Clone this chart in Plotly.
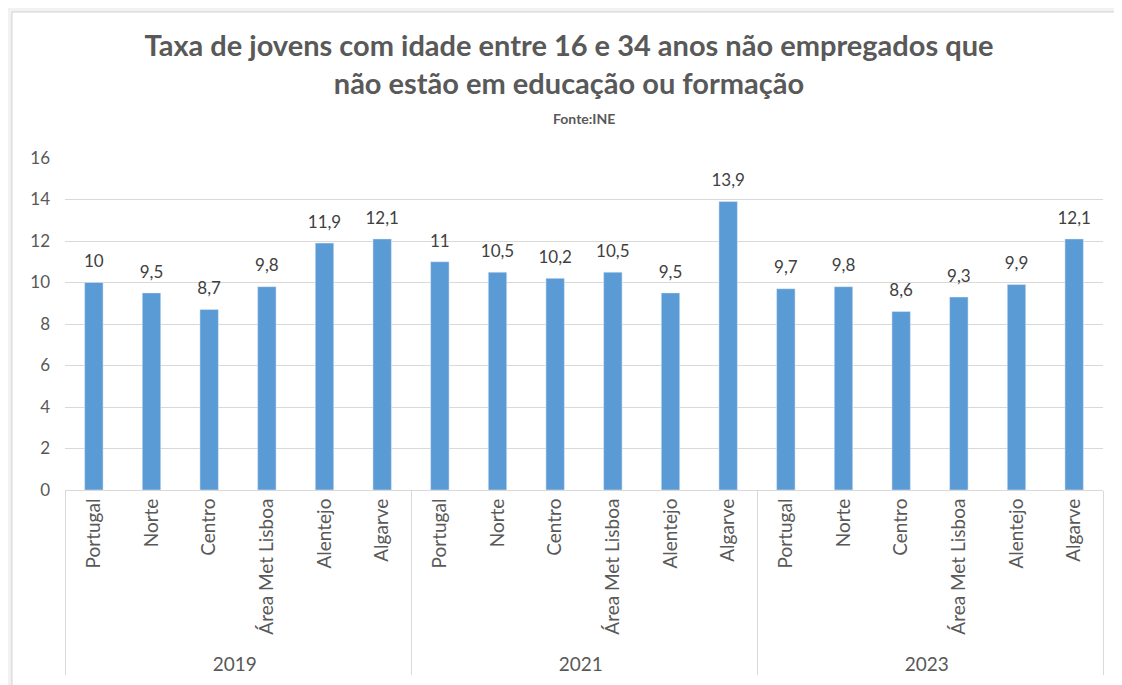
import plotly.graph_objects as go

# dados (fonte: INE)
anos = ["2019"] * 6 + ["2021"] * 6 + ["2023"] * 6
regioes = ["Portugal", "Norte", "Centro", "Área Met Lisboa", "Alentejo", "Algarve"] * 3
taxa = [10, 9.5, 8.7, 9.8, 11.9, 12.1,
        11, 10.5, 10.2, 10.5, 9.5, 13.9,
        9.7, 9.8, 8.6, 9.3, 9.9, 12.1]

# rótulos com vírgula decimal
rotulos = [f"{v:g}".replace(".", ",") for v in taxa]

FONTE = "Lato, 'Open Sans', sans-serif"
CINZA = "#595959"

fig = go.Figure()
fig.add_trace(go.Bar(
    x=[anos, regioes],
    y=taxa,
    marker_color="#5B9BD5",
    hoverinfo="y",
))
# rótulos de dados por cima das barras (marcador invisível dá o afastamento)
fig.add_trace(go.Scatter(
    x=[anos, regioes],
    y=taxa,
    mode="markers+text",
    text=rotulos,
    textposition="top center",
    textfont=dict(size=17, color="#404040", family=FONTE),
    marker=dict(size=16, opacity=0),
    hoverinfo="skip",
    cliponaxis=False,
))

fig.update_layout(
    width=1122, height=685,
    margin=dict(l=57, r=27, t=150, b=203),
    paper_bgcolor="#f2f2f2",
    plot_bgcolor="white",
    bargap=0.68,
    showlegend=False,
    font=dict(family=FONTE, color=CINZA),
    title=dict(
        text="<b>Taxa de jovens com idade entre 16 e 34 anos não empregados que<br>"
             "não estão em educação ou formação</b>",
        x=0.5, xanchor="center", y=0.93, yanchor="top",
        font=dict(size=29, color=CINZA, family=FONTE),
    ),
    annotations=[
        dict(text="<b>Fonte:INE</b>", xref="paper", yref="paper",
             x=0.5, y=1.12, xanchor="center", yanchor="middle",
             showarrow=False, font=dict(size=14, color=CINZA, family=FONTE)),
    ],
    yaxis=dict(
        range=[0, 16], dtick=2,
        showgrid=True, gridcolor="#d9d9d9", gridwidth=1,
        zeroline=False, showline=False,
        tickfont=dict(size=17, color=CINZA),
        ticks="", ticklabelstandoff=14,
    ),
    xaxis=dict(
        type="multicategory",
        range=[-0.5, len(taxa) - 0.5],
        tickangle=-90,
        tickfont=dict(size=19, color=CINZA),
        showline=True, linecolor="#d9d9d9", linewidth=1,
        showdividers=True, dividercolor="#d9d9d9", dividerwidth=1,
        ticks="",
    ),
    shapes=[
        dict(type="rect", xref="paper", yref="paper",
             x0=-0.0511, x1=1.1, y0=-1.0, y1=1.44,
             fillcolor="white", line=dict(color="#d0d0d0", width=1), layer="below"),
    ],
)

fig.write_html("out.html")
